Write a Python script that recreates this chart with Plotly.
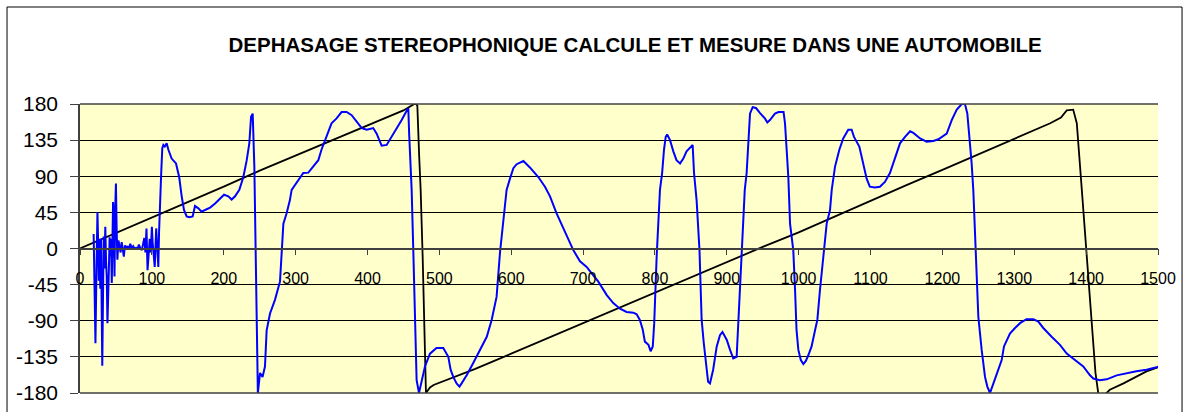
import plotly.graph_objects as go

# ---- data ----
calc_x = [0, 50, 100, 150, 200, 250, 300, 350, 400, 450, 467, 469.4, 472, 474, 476.8, 479, 481.4,
          487, 492, 550, 600, 650, 700, 750, 800, 850, 900, 950, 1000, 1050, 1100, 1150, 1200,
          1250, 1300, 1350, 1365, 1373, 1382, 1387, 1394, 1401, 1408, 1413, 1417, 1426, 1433,
          1452, 1484, 1500]
calc_y = [0, 19, 39, 58, 77, 97, 116, 135, 154, 172, 181, 178, 114, 73, -10, -93, -180,
          -173, -170, -150, -131, -112, -93, -74, -55, -36, -17, 2, 20, 40, 60, 79, 98,
          117, 137, 156, 163, 172, 173, 156, 73, -10, -93, -155, -181, -182, -176,
          -168, -153, -148]

meas_x = [19, 20, 21.5, 23, 24.3, 25.3, 26.2, 27.2, 28.2, 29.2, 30, 31, 32, 33, 34, 35.2, 36.2,
          37.2, 38.2, 39.2, 40.2, 41.2, 42.2, 43.2, 44.2, 45.2, 46, 47, 48, 49, 50, 51, 52,
          53.5, 55, 56.5, 58, 59.5, 61, 62.5, 64, 66, 68, 70, 72, 74, 76, 78, 80, 82, 84, 86,
          88, 89.5, 91, 92.5, 94, 95.5, 97, 98.5, 100, 101, 102.5, 104, 106, 107.5, 109, 110,
          111.3, 113, 114.5, 116, 118, 120.6, 123, 127.5, 133.6, 138, 141.5, 144.7, 148.4, 152,
          156.8, 160, 164.7, 169, 174, 181, 188, 195, 200.4, 206.4, 211, 215.7, 221.7, 227.3,
          232, 235.6, 238, 240.3, 241.5, 242.6, 244.4, 245.8, 247.5, 250.5, 254, 257.4, 259.7,
          264.4, 271.3, 278.3, 280.6, 283, 287.5, 292, 294.5, 299, 306, 310.7, 317.7, 324.6,
          331.6, 336, 343.2, 350, 357, 364, 371, 378, 385, 392, 399, 408, 412.8, 419.7, 426.7,
          433.6, 440.6, 447.6, 453.6, 456.8, 458, 461.5, 464, 466, 468.4, 471.7, 475.4, 480,
          487, 496, 505.5, 512.5, 515.7, 519.4, 524, 528, 531, 538, 547, 556.5, 566, 572.8,
          579.7, 584.4, 589, 593.6, 598.3, 603, 607.6, 617, 626, 637.7, 647, 654, 663, 675,
          686.4, 695.7, 705, 712, 721, 733, 742, 751.4, 760.6, 770, 774.6, 779, 783, 786, 791,
          794, 797, 799, 802.4, 807, 810, 812.6, 815, 817, 821, 825.6, 830, 835, 839.5, 844,
          849, 852.5, 854.4, 858, 862, 865, 868, 871, 874, 876.6, 881, 886, 890.5, 894, 900,
          904.4, 909, 913.7, 916, 918.3, 922, 925, 927.6, 930, 932.3, 936, 940.6, 946, 953,
          956.4, 960, 967, 972, 979, 981, 983.3, 985.6, 988, 992.5, 995, 997, 999.5, 1003,
          1006.5, 1010, 1013.4, 1018, 1023, 1026, 1029.6, 1034, 1039, 1043.6, 1046, 1050.6,
          1056.6, 1062, 1069, 1073.7, 1077, 1084.4, 1087.7, 1090, 1094.6, 1099, 1106, 1113,
          1120, 1127, 1134, 1141, 1148, 1155, 1159.6, 1169, 1178, 1187.4, 1194.4, 1206, 1213,
          1220, 1227, 1231.4, 1234.7, 1237.5, 1240.7, 1243, 1245.4, 1247.7, 1250, 1254.6,
          1259.3, 1262.5, 1266.2, 1271, 1278, 1282.5, 1285.7, 1289.4, 1294, 1301, 1308, 1317,
          1326.5, 1333.5, 1340.4, 1352, 1363.6, 1373, 1384.5, 1396, 1405.4, 1410, 1419, 1428.6,
          1442.5, 1456.4, 1470, 1484, 1498, 1509]
meas_y = [18, -25, -118, -20, 45, 5, -40, 12, -50, 12, -90, -146, -60, 15, -25, 27, -15,
          -35, -93, -70, -25, 14, -10, 12, -43, 10, 58, 35, -35, 50, 81, 25, -14,
          10, 2, -5, 8, -2, -10, 4, 0, 3, -1, 6, 0, 3, 0, 1, -1, 5, 0, -2,
          8, 13, -5, 25, -27, -12, 12, -5, 27, 8, -10, -23, 25, -5, -23, 20,
          61, 94, 125, 129, 127, 131, 123, 112, 106, 89, 65, 48, 40, 39,
          40, 53, 50, 46, 48, 51, 56, 62, 67, 65, 61, 65, 73, 89,
          110, 131, 164, 168, 140, 102, -2, -89, -180, -155, -160, -147, -102,
          -81, -64, -41, 2, 31, 44, 60, 73, 79, 87, 94, 94.5, 102,
          110, 123, 139, 156, 162, 170, 170, 166, 158, 150, 148, 150, 143, 128, 129,
          139, 150, 160, 170, 175, 143, 73, -10, -93, -164, -180, -164, -147,
          -131, -124, -124, -135, -151, -160, -168, -172, -168, -158, -143, -126, -110, -89,
          -60, -5, 35, 73, 87, 100, 105, 109, 101, 89, 77, 65, 44, 21,
          -2, -16, -23, -31, -41, -58, -68, -75, -79, -80, -82, -89, -101, -116, -120,
          -128, -122, -93, -10, 73, 94, 123, 139, 142, 135, 121, 110, 106, 112, 121,
          126, 129, 94, 60, -2, -89, -118, -139, -166, -168, -151, -122, -108, -104, -114,
          -126, -137, -135, -93, -43, 23, 73, 94, 139, 168, 176, 175, 169, 162,
          157, 160, 168, 170, 170, 156, 123, 89, 31, -2, -52, -101, -126, -139,
          -144, -140, -133, -122, -101, -89, -52, -10, 31, 48, 73, 102,
          123, 137, 148, 148, 139, 127, 114, 102, 87, 77, 76, 77,
          83, 94, 112, 131, 139, 146, 144, 137, 133, 134, 136, 143, 160,
          173, 180, 180, 168, 143, 106, 73, 23, -31, -85, -126,
          -160, -172, -180, -168, -151, -139, -122, -114, -106, -99, -93, -88,
          -88, -91, -99, -110, -120, -131, -139, -147, -158, -162, -164, -163,
          -158, -155, -153, -151, -148, -144]

x_ticks = [0, 100, 200, 300, 400, 500, 600, 700, 800, 900, 1000, 1100, 1200, 1300, 1400, 1500]
y_ticks = [180, 135, 90, 45, 0, -45, -90, -135, -180]
title_text = "DEPHASAGE STEREOPHONIQUE CALCULE ET MESURE DANS UNE AUTOMOBILE"

FONT = "Liberation Sans, Arial, sans-serif"

fig = go.Figure()
fig.add_trace(go.Scatter(x=calc_x, y=calc_y, mode="lines",
                         line=dict(color="#000000", width=1.8), name="calculé"))
fig.add_trace(go.Scatter(x=meas_x, y=meas_y, mode="lines",
                         line=dict(color="#0000FF", width=2), name="mesuré"))

fig.update_layout(
    width=1185, height=412,
    autosize=False,
    margin=dict(l=80, r=27, t=104, b=19, pad=0),
    paper_bgcolor="white",
    plot_bgcolor="#FFFFCC",
    showlegend=False,
    title=dict(text=title_text, x=0.515, xref="paper", xanchor="center",
               y=0.891, yref="container", yanchor="middle",
               font=dict(family=FONT, size=20.5, color="black", weight="bold")),
    xaxis=dict(range=[0, 1500], anchor="free", position=0.5, automargin=False,
               showline=True, linecolor="#404040", linewidth=1.5,
               ticks="outside", ticklen=6, tickcolor="#404040", tickwidth=1,
               tickvals=x_ticks, ticktext=[str(v) for v in x_ticks],
               showgrid=False, zeroline=False,
               tickfont=dict(family=FONT, size=16, color="black"),
               ticklabelstandoff=10),
    yaxis=dict(range=[-180, 180], automargin=False,
               showline=True, linecolor="#404040", linewidth=1.5,
               ticks="outside", ticklen=8, tickcolor="#404040", tickwidth=1,
               tickvals=y_ticks, ticktext=[str(v) for v in y_ticks],
               showgrid=True, gridcolor="#000000", gridwidth=1, zeroline=False,
               tickfont=dict(family=FONT, size=21, color="black"),
               ticklabelstandoff=8),
    shapes=[
        dict(type="rect", xref="paper", yref="paper",
             x0=-0.0677, x1=1.0223, y0=-0.2, y1=1.3356,
             line=dict(color="black", width=1), fillcolor="rgba(0,0,0,0)", layer="below"),
        dict(type="line", xref="paper", yref="paper", x0=0, x1=1, y0=1, y1=1,
             line=dict(color="#404040", width=1.5)),
        dict(type="line", xref="paper", yref="paper", x0=0, x1=1, y0=0, y1=0,
             line=dict(color="#404040", width=1.5)),
    ],
)

fig.write_html("out.html",
               config={"displayModeBar": False},
               post_script="document.body.style.margin='0';document.body.style.overflow='hidden';")
